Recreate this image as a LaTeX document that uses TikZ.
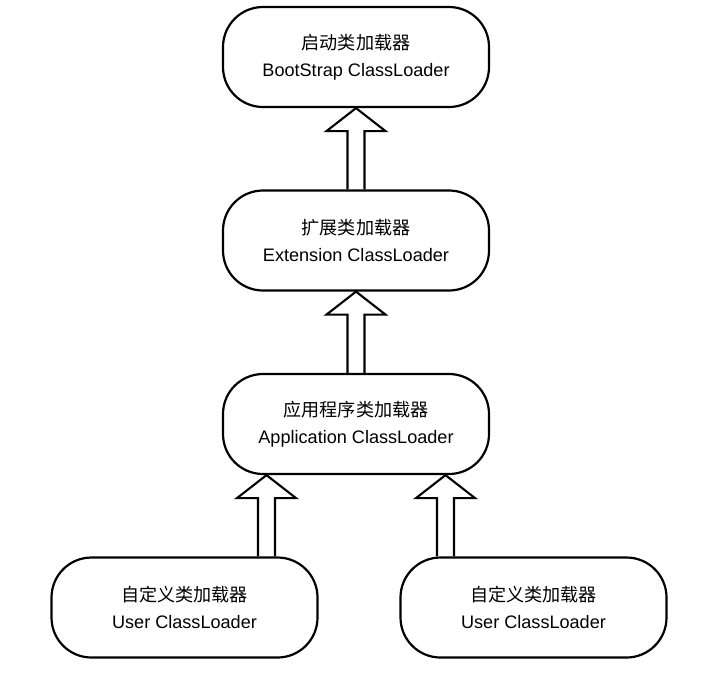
\documentclass[tikz,border=0pt]{standalone}
\usepackage{fontspec}
\setmainfont{Liberation Sans}
\newfontfamily\cjk{Noto Sans CJK SC}
\usetikzlibrary{calc}

% hollow block arrow pointing up, from a lower point to an upper one
\newcommand{\hollowup}[2]{%
  \draw[line width=1.2pt, line join=miter] let \p1=(#1), \p2=(#2) in
    (\x2-0.17cm,\y1) -- (\x2-0.17cm,\y2-0.46cm) -- (\x2-0.59cm,\y2-0.46cm) -- (\x2,\y2)
    -- (\x2+0.59cm,\y2-0.46cm) -- (\x2+0.17cm,\y2-0.46cm) -- (\x2+0.17cm,\y1);}

\begin{document}
\begin{tikzpicture}[loader/.style={draw, line width=1.25pt, rounded corners=0.8cm, minimum width=5.32cm, minimum height=2.0cm, inner sep=0pt, align=center, font=\fontsize{10.3}{15.4}\selectfont}]
\useasboundingbox (0,0) rectangle (14.36,-13.68);

\node[loader] (boot) at (7.12,-1.14) {{\cjk 启动类加载器}\\BootStrap ClassLoader};
\node[loader] (ext) at (7.12,-4.81) {{\cjk 扩展类加载器}\\Extension ClassLoader};
\node[loader] (app) at (7.12,-8.48) {{\cjk 应用程序类加载器}\\Application ClassLoader};
\node[loader] (user1) at (3.69,-12.15) {{\cjk 自定义类加载器}\\User ClassLoader};
\node[loader] (user2) at (10.67,-12.15) {{\cjk 自定义类加载器}\\User ClassLoader};

\hollowup{ext.north}{boot.south}
\hollowup{app.north}{ext.south}
\hollowup{user1.north}{$(app.south)+(-1.79,0)$}
\hollowup{user2.north}{$(app.south)+(1.79,0)$}
\end{tikzpicture}
\end{document}
